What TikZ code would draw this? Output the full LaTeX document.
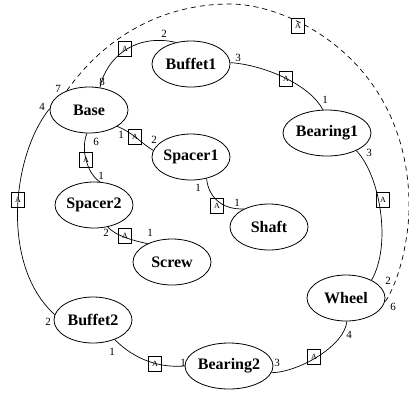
\documentclass[tikz,border=0pt]{standalone}
\usepackage{fontspec}
\setmainfont{Liberation Serif}
\usetikzlibrary{shapes.geometric}
\begin{document}
\begin{tikzpicture}[x=1pt,y=-1pt,
  part/.style={draw, ellipse, line width=0.8pt, minimum width=78pt, minimum height=46pt,
    inner sep=0pt, font=\fontsize{16}{16}\selectfont\bfseries},
  link/.style={line width=0.7pt},
  abox/.style={draw, line width=0.7pt, minimum width=13pt, minimum height=15pt,
    inner sep=0pt, font=\fontsize{8}{8}\selectfont},
  port/.style={inner sep=0pt, font=\fontsize{11}{11}\selectfont}]
\useasboundingbox (0,0) rectangle (409,392);

% parts
\node[part] (Buffet1)  at (191,64)  {Buffet1};
\node[part] (Base)     at (89,110)  {Base};
\node[part] (Spacer1)  at (191,157) {Spacer1};
\node[part] (Bearing1) at (327,133) {Bearing1};
\node[part] (Spacer2)  at (94,205)  {Spacer2};
\node[part] (Screw)    at (172,262) {Screw};
\node[part] (Shaft)    at (269,227) {Shaft};
\node[part] (Wheel)    at (346,298) {Wheel};
\node[part] (Buffet2)  at (93,320)  {Buffet2};
\node[part] (Bearing2) at (229,366) {Bearing2};

% joints
\draw[link] (Base.64) .. controls (106,58) and (135,33) .. (Buffet1.125);
\draw[link] (Buffet1.2) .. controls (265,65) and (310,85) .. (Bearing1.100);
\draw[link] (Bearing1.-31) .. controls (380,175) and (392,245) .. (Wheel.35);
\draw[link] (Wheel.-88) .. controls (345,345) and (300,372) .. (Bearing2.-9);
\draw[link] (Buffet2.-42) .. controls (135,360) and (160,368) .. (Bearing2.180);
\draw[link] (Base.178) .. controls (12,155) and (0,265) .. (Buffet2.172);
\draw[link] (Base.-95) .. controls (80,150) and (88,175) .. (Spacer2.75);
\draw[link] (Base.-30) .. controls (135,134) and (142,144) .. (Spacer1.170);
\draw[link] (Spacer1.-54) .. controls (208,195) and (220,210) .. (Shaft.144);
\draw[link] (Spacer2.-58) .. controls (115,235) and (130,240) .. (Screw.143);

% outer dashed joint
\coordinate (arcTop) at (230,4);
\coordinate (arcRight) at (409,200);
\draw[link, dashed, dash pattern=on 5pt off 4pt]
  (Base.139) .. controls (110,30) and (170,4) .. (arcTop)
  .. controls (290,4) and (405,60) .. (arcRight)
  .. controls (410,235) and (400,280) .. (Wheel.-7);

% joint markers
\node[abox] (j1)  at (125,49)  {A};
\node[abox] (j2)  at (286,79)  {A};
\node[abox] (j3)  at (383,200) {A};
\node[abox] (j4)  at (314,357) {A};
\node[abox] (j5)  at (155,364) {A};
\node[abox] (j6)  at (18,200)  {A};
\node[abox] (j7)  at (86,160)  {A};
\node[abox] (j8)  at (135,137) {A};
\node[abox] (j9)  at (217,206) {A};
\node[abox] (j10) at (125,236) {A};
\node[abox] (j11) at (298,26)  {A};

% port numbers
\node[port] (p1a)  at (102,82)  {8};
\node[port] (p1b)  at (164,34)  {2};
\node[port] (p2a)  at (238,58)  {3};
\node[port] (p2b)  at (325,100) {1};
\node[port] (p3a)  at (369,153) {3};
\node[port] (p3b)  at (388,281) {2};
\node[port] (p4a)  at (349,335) {4};
\node[port] (p4b)  at (277,363) {3};
\node[port] (p5a)  at (112,352) {1};
\node[port] (p5b)  at (183,363) {1};
\node[port] (p6a)  at (42,107)  {4};
\node[port] (p6b)  at (48,322)  {2};
\node[port] (p7a)  at (96,142)  {6};
\node[port] (p7b)  at (101,176) {1};
\node[port] (p8a)  at (121,135) {1};
\node[port] (p8b)  at (154,140) {2};
\node[port] (p9a)  at (198,188) {1};
\node[port] (p9b)  at (237,203) {1};
\node[port] (p10a) at (106,233) {2};
\node[port] (p10b) at (150,233) {1};
\node[port] (p11a) at (58,89)   {7};
\node[port] (p11b) at (393,307) {6};
\end{tikzpicture}
\end{document}
